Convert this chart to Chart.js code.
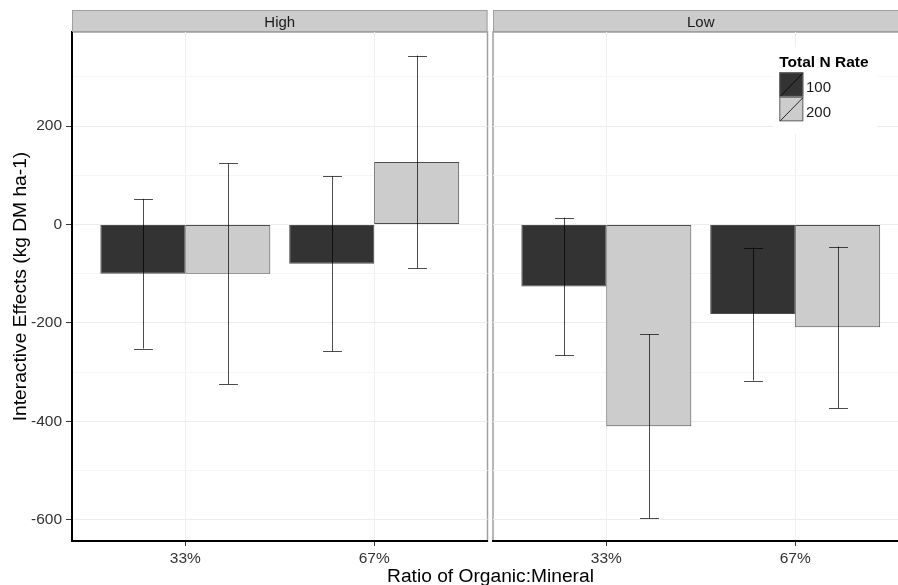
<!DOCTYPE html>
<html>
<head>
<meta charset="utf-8">
<script src="https://cdn.jsdelivr.net/npm/chart.js@4.4.1/dist/chart.umd.min.js"></script>
<style>
  html, body { margin: 0; padding: 0; background: #fff; overflow: hidden; }
  #wrap { position: relative; width: 898px; height: 585px; overflow: hidden; background: #fff; }
  canvas { position: absolute; top: 0; }
  #chartHigh { left: 0; }
  #chartLow { left: 490px; }
  #xTitle {
    position: absolute; left: 290px; width: 401px; top: 566px;
    text-align: center; white-space: nowrap; color: #000;
    font: 19.2px "Liberation Sans", Arial, sans-serif; line-height: 19.2px;
  }
</style>
</head>
<body>
<div id="wrap">
  <canvas id="chartHigh" width="490" height="585"></canvas>
  <canvas id="chartLow" width="420" height="585"></canvas>
  <div id="xTitle">Ratio of Organic:Mineral</div>
</div>
<script>
const categories = ["33%", "67%"];
const facets = ["High", "Low"];
const rates = ["100", "200"];

// bar heights (kg DM ha-1)
const high100 = [-100, -80];
const high200 = [-100, 127];
const low100 = [-126, -182];
const low200 = [-410, -209];

// error bar half widths
const high100Err = [152, 178];
const high200Err = [224, 216];
const low100Err = [140, 135];
const low200Err = [187, 164];

const yTicks = [-600, -400, -200, 0, 200];
const yMinorTicks = [-500, -300, -100, 100, 300];
const yMin = -643;
const yMax = 391;

const fillColors = ["#333333", "#cccccc"];
const FONT = '"Liberation Sans", Arial, sans-serif';
Chart.defaults.font.family = FONT;

const xPositions = categories.map((c, i) => i + 1);

// grey panel border, under everything else
const panelPlugin = {
    id: "panel",
    beforeDraw(chart) {
        const { ctx, chartArea: a } = chart;
        ctx.save();
        ctx.strokeStyle = "#a0a0a0";
        ctx.lineWidth = 1.5;
        ctx.strokeRect(a.left, a.top, a.right - a.left, a.bottom - a.top);
        ctx.restore();
    }
};

// facet strip on top
const stripPlugin = {
    id: "strip",
    afterDraw(chart, args, opts) {
        const { ctx, chartArea: a } = chart;
        ctx.save();
        ctx.fillStyle = "#cccccc";
        ctx.fillRect(a.left, 10, a.right - a.left, 22);
        ctx.strokeStyle = "#a0a0a0";
        ctx.lineWidth = 1;
        ctx.strokeRect(a.left + 0.5, 10.5, a.right - a.left - 1, 21);
        ctx.fillStyle = "#1a1a1a";
        ctx.font = "15px " + FONT;
        ctx.textAlign = "center";
        ctx.textBaseline = "alphabetic";
        ctx.fillText(opts.text, (a.left + a.right) / 2, 27.3);
        ctx.restore();
    }
};

const errorBarPlugin = {
    id: "errorBars",
    afterDatasetsDraw(chart) {
        const { ctx } = chart;
        const xs = chart.scales.x, ys = chart.scales.y;
        ctx.save();
        ctx.strokeStyle = "rgba(0,0,0,0.7)";
        ctx.lineWidth = 1;
        chart.data.datasets.forEach((ds, i) => {
            const meta = chart.getDatasetMeta(i);
            meta.data.forEach((bar, j) => {
                const v = ds.data[j].y, e = ds.errors[j];
                const half = (xs.getPixelForValue(1.05) - xs.getPixelForValue(1));
                const x = Math.round(bar.x) + 0.5;
                const yHi = ys.getPixelForValue(v + e);
                const yLo = ys.getPixelForValue(v - e);
                ctx.beginPath();
                ctx.moveTo(x, yHi); ctx.lineTo(x, yLo);
                ctx.moveTo(x - half, Math.round(yHi) + 0.5); ctx.lineTo(x + half, Math.round(yHi) + 0.5);
                ctx.moveTo(x - half, Math.round(yLo) + 0.5); ctx.lineTo(x + half, Math.round(yLo) + 0.5);
                ctx.stroke();
            });
        });
        ctx.restore();
    }
};

// legend inside the Low panel
const keyLegendPlugin = {
    id: "keyLegend",
    afterDraw(chart, args, opts) {
        if (!opts.show) return;
        const { ctx, chartArea: a } = chart;
        const x0 = a.left + 286.3;
        ctx.save();
        ctx.fillStyle = "#fff";
        ctx.fillRect(x0 - 6, 47, 104, 87);
        ctx.fillStyle = "#000";
        ctx.font = "bold 15.5px " + FONT;
        ctx.textBaseline = "alphabetic";
        ctx.fillText("Total N Rate", x0, 66.7);
        chart.data.datasets.forEach((ds, i) => {
            const top = 72.3 + i * 24.5;
            ctx.fillStyle = ds.backgroundColor;
            ctx.fillRect(x0, top, 24, 24.5);
            ctx.strokeStyle = "#666";
            ctx.lineWidth = 1;
            ctx.strokeRect(x0 + 0.5, top + 0.5, 23, 23.5);
            ctx.strokeStyle = "rgba(0,0,0,0.8)";
            ctx.beginPath();
            ctx.moveTo(x0 + 1, top + 24);
            ctx.lineTo(x0 + 23.5, top + 1);
            ctx.stroke();
            ctx.fillStyle = "#1a1a1a";
            ctx.font = "15px " + FONT;
            ctx.fillText(ds.label, x0 + 26.7, top + 20);
        });
        ctx.restore();
    }
};

function makeChart(id, facet, v100, e100, v200, e200, showYAxis, padding) {
    const series = [[v100, e100], [v200, e200]];
    return new Chart(document.getElementById(id), {
        type: "bar",
        data: {
            datasets: series.map((s, i) => ({
                label: rates[i],
                data: s[0].map((y, j) => ({ x: xPositions[j], y: y })),
                errors: s[1],
                backgroundColor: fillColors[i],
                borderColor: "#4d4d4d",
                borderWidth: 1,
                borderSkipped: false,
                categoryPercentage: 0.9,
                barPercentage: 1
            }))
        },
        options: {
            responsive: false,
            animation: false,
            layout: { padding: padding },
            plugins: {
                legend: { display: false },
                tooltip: { enabled: false },
                strip: { text: facet },
                keyLegend: { show: !showYAxis }
            },
            scales: {
                x: {
                    type: "linear",
                    min: 0.4,
                    max: 2.6,
                    offset: false,
                    afterBuildTicks: s => { s.ticks = xPositions.map(v => ({ value: v })); },
                    afterFit: s => { s.height = 44; },
                    ticks: {
                        color: "#333",
                        font: { size: 15.5 },
                        padding: 3,
                        autoSkip: false,
                        maxRotation: 0,
                        callback: v => categories[v - 1]
                    },
                    grid: { offset: false, color: "#efefef", tickColor: "#333", tickLength: 5, lineWidth: 1 },
                    border: { display: true, color: "#000", width: 2 }
                },
                y: {
                    min: yMin,
                    max: yMax,
                    afterBuildTicks: s => {
                        s.ticks = yTicks.concat(yMinorTicks).sort((p, q) => p - q).map(v => ({ value: v }));
                    },
                    afterFit: s => { s.width = showYAxis ? 72 : 0; },
                    ticks: {
                        display: showYAxis,
                        color: "#333",
                        font: { size: 15.5 },
                        padding: 4,
                        callback: v => yTicks.includes(v) ? String(v) : ""
                    },
                    grid: {
                        color: c => yTicks.includes(c.tick.value) ? "#ececec" : "#f5f5f5",
                        tickColor: c => yTicks.includes(c.tick.value) ? "#333" : "rgba(0,0,0,0)",
                        tickLength: showYAxis ? 6 : 0,
                        drawTicks: showYAxis
                    },
                    border: { display: showYAxis, color: "#000", width: 2 },
                    title: {
                        display: showYAxis,
                        text: "Interactive Effects (kg DM ha-1)",
                        color: "#000",
                        font: { size: 19.2 },
                        padding: { top: 9, bottom: 0 }
                    }
                }
            }
        },
        plugins: [panelPlugin, errorBarPlugin, stripPlugin, keyLegendPlugin]
    });
}

makeChart("chartHigh", facets[0], high100, high100Err, high200, high200Err, true,
    { left: 0, right: 2.5, top: 32, bottom: 0 });
makeChart("chartLow", facets[1], low100, low100Err, low200, low200Err, false,
    { left: 3, right: 1.5, top: 32, bottom: 0 });
</script>
</body>
</html>
